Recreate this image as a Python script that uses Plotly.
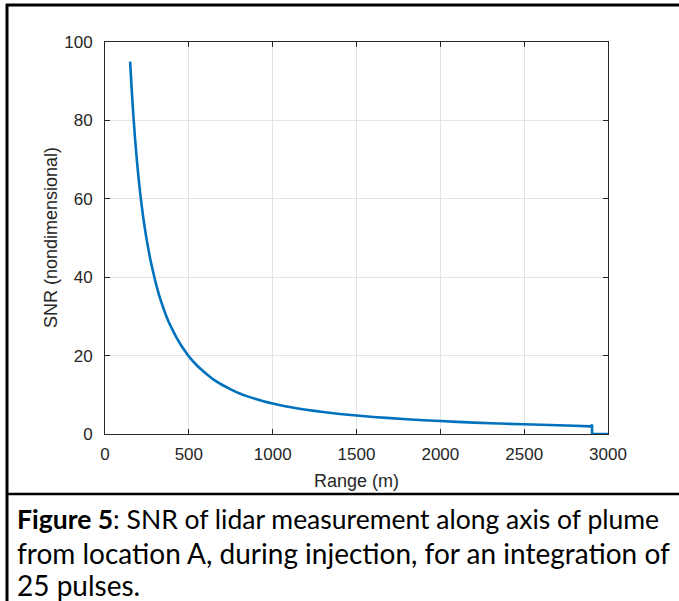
import plotly.graph_objects as go

# Range (m) and SNR values (smooth decay part)
range_m = [150, 155, 160, 165, 170, 175, 180, 190, 200, 210, 225, 240, 250, 265, 275, 290,
           300, 325, 350, 375, 400, 425, 450, 475, 500, 550, 600, 650, 700, 750,
           800, 850, 900, 950, 1000, 1100, 1200, 1300, 1400, 1500, 1600, 1800, 2000, 2200,
           2400, 2600, 2800, 2900]
snr = [95, 91.1, 87.4, 84.0, 80.8, 77.8, 75.0, 69.9, 65.4, 61.4, 56.2, 51.8, 49.2, 45.7, 43.6, 40.8,
       39.0, 35.1, 31.9, 29.1, 26.8, 24.7, 22.9, 21.3, 19.8, 17.4, 15.5, 13.8, 12.5, 11.4,
       10.4, 9.6, 8.9, 8.3, 7.8, 6.9, 6.2, 5.6, 5.1, 4.7, 4.35, 3.75, 3.3, 2.9,
       2.6, 2.35, 2.1, 1.95]

# end of the record: small spike, drop to zero, flat to 3000 m
step_range = [2900, 2905, 2905, 3000]
step_snr = [1.95, 2.4, 0, 0]

x_ticks = [0, 500, 1000, 1500, 2000, 2500, 3000]
y_ticks = [0, 20, 40, 60, 80, 100]

caption_lines = [
    "<b>Figure 5</b>: SNR of lidar measurement along axis of plume",
    "from location A, during injection, for an integration of",
    "25 pulses.",
]
caption_sizes = [26.5, 28, 28]

W, H = 679, 601
L, R, T, B = 105, 608, 42, 434  # plot area in pixels


def px(xp):
    return (xp - L) / (R - L)


def py(yp):
    return (B - yp) / (B - T)


BLUE = "#0072BD"
fig = go.Figure()
fig.add_trace(go.Scatter(x=range_m, y=snr, mode="lines",
                         line=dict(color=BLUE, width=2.6, shape="spline", smoothing=0.5),
                         showlegend=False, hoverinfo="skip"))
fig.add_trace(go.Scatter(x=step_range, y=step_snr, mode="lines",
                         line=dict(color=BLUE, width=2.6, shape="linear"),
                         showlegend=False, hoverinfo="skip"))

FONT = "Liberation Sans, Arial, sans-serif"
axis_common = dict(
    showline=True, linecolor="#262626", linewidth=1, mirror="allticks",
    ticks="inside", ticklen=5, tickcolor="#262626", tickwidth=1,
    showgrid=True, gridcolor="#e3e3e3", gridwidth=1, zeroline=False,
    layer="below traces",
    tickfont=dict(family=FONT, size=17, color="#262626"),
)

fig.update_layout(
    width=W, height=H,
    margin=dict(l=L, r=W - R, t=T, b=H - B),
    paper_bgcolor="white", plot_bgcolor="white",
    xaxis=dict(range=[0, 3000], tickvals=x_ticks, ticktext=[str(v) for v in x_ticks],
               ticklabelstandoff=5, **axis_common),
    yaxis=dict(range=[0, 100], tickvals=y_ticks, ticktext=[str(v) for v in y_ticks],
               ticklabelstandoff=8, **axis_common),
)

# axis titles
fig.add_annotation(x=0.5, y=py(481), xref="paper", yref="paper", text="Range (m)",
                   showarrow=False, xanchor="center", yanchor="middle",
                   font=dict(family=FONT, size=18, color="#262626"))
fig.add_annotation(x=px(51), y=py(238), xref="paper", yref="paper", text="SNR (nondimensional)",
                   showarrow=False, textangle=-90, xanchor="center", yanchor="middle",
                   font=dict(family=FONT, size=18, color="#262626"))

# caption
for line, yc, fs in zip(caption_lines, [519, 553, 585], caption_sizes):
    fig.add_annotation(x=px(15), y=py(yc), xref="paper", yref="paper", text=line,
                       showarrow=False, xanchor="left", yanchor="middle",
                       font=dict(family="Lato, Open Sans, sans-serif", size=fs, color="black"))

# frame lines
fig.add_shape(type="line", xref="paper", yref="paper", x0=px(6), x1=px(W + 2), y0=py(5), y1=py(5),
              line=dict(color="black", width=3))
fig.add_shape(type="line", xref="paper", yref="paper", x0=px(7), x1=px(7), y0=py(4), y1=py(H + 2),
              line=dict(color="black", width=3))
fig.add_shape(type="line", xref="paper", yref="paper", x0=px(6), x1=px(W + 2), y0=py(494), y1=py(494),
              line=dict(color="black", width=2.5))

fig.write_html("out.html")
